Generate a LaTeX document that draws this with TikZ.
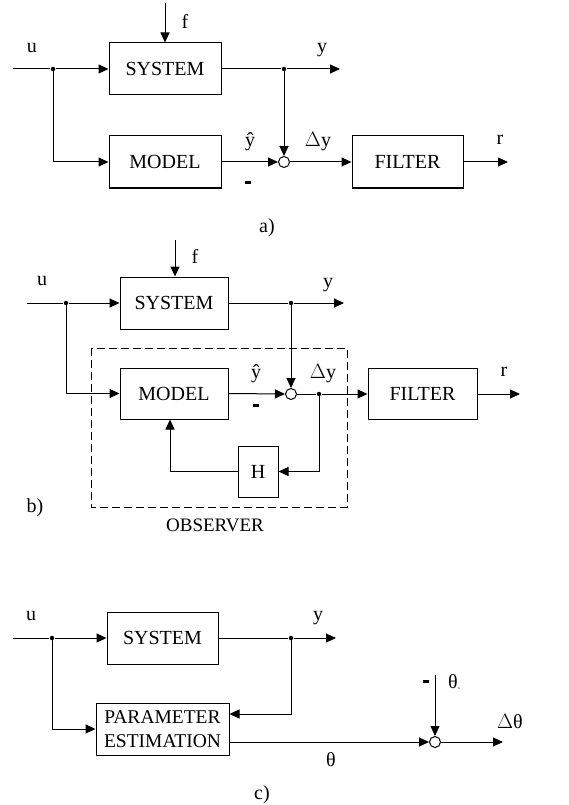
\documentclass[tikz,border=0pt]{standalone}
\usepackage{fontspec}
\setmainfont{Liberation Serif}
\usetikzlibrary{arrows.meta}
\begin{document}
\begin{tikzpicture}[x=1pt,y=-1pt,line width=1pt,
  every node/.style={font=\fontsize{20}{24}\selectfont},
  blk/.style={draw,minimum width=112pt,minimum height=52pt,inner sep=0pt},
  arr/.style={-{Triangle[length=10pt,width=9pt]}},
  sumn/.style={draw,circle,minimum size=11pt,inner sep=0pt},
  lbl/.style={anchor=base,inner sep=0pt},
  jdot/.style={circle,fill,inner sep=0pt,minimum size=4.5pt}]
\useasboundingbox (0,0) rectangle (568,805);
\newcommand{\minussign}{\rule{6.5pt}{2.8pt}}

% ---------------- a) ----------------
\node[blk] (sysA) at (165,69) {SYSTEM};
\node[blk] (modA) at (165,162) {MODEL};
\node[sumn] (sumA) at (284,162) {};
\node[blk,minimum width=111pt] (filA) at (407.5,162) {FILTER};
\coordinate (inA) at (13,69);
\node[jdot] (jA1) at (53,69) {};
\node[jdot] (jA2) at (284,69) {};
\coordinate (outyA) at (340,69);
\coordinate (fA) at (165,3);
\coordinate (outrA) at (508,162);
\draw (inA) -- (jA1);
\draw[arr] (jA1) -- (sysA.west);
\draw[arr] (jA1.center) |- (modA.west);
\draw (sysA.east) -- (jA2);
\draw[arr] (jA2) -- (outyA);
\draw[arr] (jA2.center) -- (sumA.north);
\draw[arr] (modA.east) -- (sumA.west);
\draw[arr] (sumA.east) -- (filA.west);
\draw[arr] (filA.east) -- (outrA);
\draw[arr] (fA) -- (sysA.north);
\node[lbl] (uA) at (32,53) {u};
\node[lbl] (fAl) at (185,29) {f};
\node[lbl] (yA) at (322,53) {y};
\node[lbl] (yhA) at (250,147) {ŷ};
\node[lbl] (mA) at (248,184) {\minussign};
\node[lbl] (dyA) at (318,147) {$\Delta$y};
\node[lbl] (rA) at (500,145) {r};
\node[lbl] (capA) at (267,232) {a)};

% ---------------- b) ----------------
\draw[dashed,dash pattern=on 8pt off 4pt,line width=0.8pt] (91,348) rectangle (347,507);
\node[blk,minimum width=108pt] (sysB) at (174,303) {SYSTEM};
\node[blk,minimum width=108pt,minimum height=51pt] (modB) at (174,393.5) {MODEL};
\node[sumn] (sumB) at (291,394) {};
\node[blk,minimum width=109pt,minimum height=51pt] (filB) at (422.5,394) {FILTER};
\node[blk,minimum width=40pt,minimum height=51pt] (hB) at (258,471.5) {H};
\coordinate (inB) at (27,303);
\node[jdot] (jB1) at (66,303) {};
\node[jdot] (jB2) at (291,303) {};
\node[jdot] (jB3) at (319,394) {};
\coordinate (outyB) at (344,303);
\coordinate (fB) at (175,240);
\coordinate (outrB) at (520,394);
\draw (inB) -- (jB1);
\draw[arr] (jB1) -- (sysB.west);
\draw[arr] (jB1.center) |- (modB.west);
\draw (sysB.east) -- (jB2);
\draw[arr] (jB2) -- (outyB);
\draw[arr] (jB2.center) -- (sumB.north);
\draw[arr] (modB.east) -- (sumB.west);
\draw (sumB.east) -- (jB3);
\draw[arr] (jB3) -- (filB.west);
\draw[arr] (filB.east) -- (outrB);
\draw[arr] (jB3.center) |- (hB.east);
\draw[arr] (hB.west) -| ([xshift=-4pt]modB.south);
\draw[arr] (fB) -- (fB |- sysB.north);
\node[lbl] (uB) at (42,285) {u};
\node[lbl] (fBl) at (195,263) {f};
\node[lbl] (yB) at (328,287) {y};
\node[lbl] (yhB) at (256,378) {ŷ};
\node[lbl] (mB) at (256,407) {\minussign};
\node[lbl] (dyB) at (323,378) {$\Delta$y};
\node[lbl] (rB) at (504,376) {r};
\node[lbl] (capB) at (35,512) {b)};
\node[lbl,font=\fontsize{19}{22}\selectfont] (obs) at (215,531) {OBSERVER};

% ---------------- c) ----------------
\node[blk,minimum width=111pt] (sysC) at (162.5,638) {SYSTEM};
\node[blk,minimum width=133pt,minimum height=52pt,align=center,font=\fontsize{19.5}{24}\selectfont] (peC) at (162.5,729) {PARAMETER\\ESTIMATION};
\node[sumn] (sumC) at (435,742) {};
\coordinate (inC) at (13,638);
\node[jdot] (jC1) at (52,638) {};
\node[jdot] (jC2) at (291,638) {};
\coordinate (outyC) at (336,638);
\coordinate (thC) at (435,675);
\coordinate (outC) at (503,742);
\draw (inC) -- (jC1);
\draw[arr] (jC1) -- (sysC.west);
\draw[arr] (jC1.center) |- (peC.west);
\draw (sysC.east) -- (jC2);
\draw[arr] (jC2) -- (outyC);
\draw[arr] (jC2.center) |- ([yshift=15pt]peC.east);
\draw[arr] (peC.east |- sumC) -- (sumC.west);
\draw[arr] (thC) -- (sumC.north);
\draw[arr] (sumC.east) -- (outC);
\node[lbl] (uC) at (31,620) {u};
\node[lbl] (yC) at (318,620) {y};
\node[lbl] (mC) at (426,683) {\minussign};
\node[lbl] (th0C) at (454,688) {θ\raisebox{-1pt}{\fontsize{4}{4}\selectfont o}};
\node[lbl] (dthC) at (510,728) {$\Delta$θ};
\node[lbl] (thetaC) at (331,766) {θ};
\node[lbl] (capC) at (262,799) {c)};
\end{tikzpicture}
\end{document}
